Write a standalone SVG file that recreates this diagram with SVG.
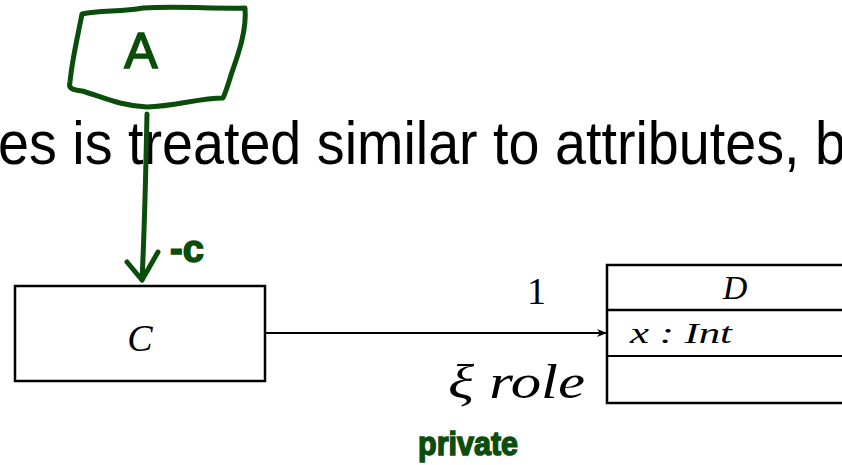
<svg xmlns="http://www.w3.org/2000/svg" width="842" height="465" viewBox="0 0 842 465">
<defs>
<style>
.box{fill:#fff;stroke:#000;stroke-width:2.5}
.math{font-family:"Liberation Serif",serif;font-style:italic;fill:#000}
.num{font-family:"Liberation Serif",serif;font-style:normal;fill:#000}
.ink{fill:none;stroke:#0b4d0b;stroke-width:5;stroke-linecap:round;stroke-linejoin:round}
.inktext{font-family:"Liberation Sans",sans-serif;fill:#0b4d0b;stroke:#0b4d0b;stroke-width:1.5}
</style>
<marker id="arr" viewBox="0 0 10 10" refX="10" refY="5" markerWidth="10" markerHeight="10" markerUnits="userSpaceOnUse" orient="auto">
<path d="M0,1 L10,5 L0,9 L3,5 Z" fill="#000"/>
</marker>
</defs>
<rect width="842" height="465" fill="#fff"/>
<text x="-2" y="164" font-family="Liberation Sans, sans-serif" font-size="61" textLength="848" lengthAdjust="spacingAndGlyphs" fill="#000">es is treated similar to attributes, b</text>
<g id="connectors">
<line x1="265" y1="333" x2="607" y2="333" stroke="#000" stroke-width="2" marker-end="url(#arr)"/>
<text class="num" x="527" y="304" font-size="38">1</text>
<text class="math" x="448" y="398" font-size="48" textLength="137" lengthAdjust="spacingAndGlyphs">ξ role</text>
</g>
<g id="node-C">
<rect class="box" x="15" y="286" width="250" height="95"/>
<text class="math" x="140" y="351" font-size="38" text-anchor="middle">C</text>
</g>
<g id="node-D">
<rect class="box" x="607" y="265" width="260" height="138"/>
<line x1="607" y1="310" x2="867" y2="310" stroke="#000" stroke-width="2.5"/>
<line x1="607" y1="356" x2="867" y2="356" stroke="#000" stroke-width="2"/>
<text class="math" x="735" y="299" font-size="34" text-anchor="middle">D</text>
<text class="math" x="630" y="343" font-size="29" textLength="102" lengthAdjust="spacingAndGlyphs">x : Int</text>
</g>
<g id="annotation-A">
<path class="ink" d="M82,14 C100,10 120,12 143,8 C180,6 215,9 245,8 C247,30 238,55 232,72 C228,85 226,92 223,98 C200,98 175,106 147,107 C120,106 100,96 82,91 C72,90 68,88 70,82 C72,60 78,35 82,14 Z"/>
<text class="inktext" x="141" y="68" font-size="50" text-anchor="middle">A</text>
</g>
<g id="annotation-arrow">
<path class="ink" d="M147,114 C146,160 145,220 142,280"/>
<path class="ink" d="M127,262 L142,280 L158,252"/>
<text class="inktext" x="170" y="262" font-size="38" font-weight="bold">-c</text>
</g>
<g id="annotation-private">
<text class="inktext" x="418" y="455" font-size="34" font-weight="bold" textLength="100" lengthAdjust="spacingAndGlyphs">private</text>
</g>
</svg>
